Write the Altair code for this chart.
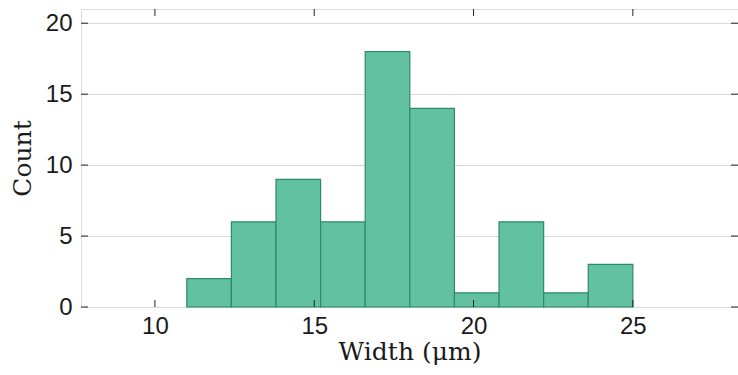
import altair as alt
import pandas as pd

bin_start = [11.0, 12.4, 13.8, 15.2, 16.6, 18.0, 19.4, 20.8, 22.2, 23.6]
bin_end = [12.4, 13.8, 15.2, 16.6, 18.0, 19.4, 20.8, 22.2, 23.6, 25.0]
counts = [2, 6, 9, 6, 18, 14, 1, 6, 1, 3]
x_ticks = [10, 15, 20, 25]
y_ticks = [0, 5, 10, 15, 20]

W, H = 657, 298
x_domain = [7.68, 28.3]
y_domain = [0, 21]

df = pd.DataFrame({"start": bin_start, "end": bin_end, "count": counts})
xt = pd.DataFrame({"v": x_ticks})
yt = pd.DataFrame({"v": y_ticks})

xs = alt.Scale(domain=x_domain, nice=False, zero=False)
ys = alt.Scale(domain=y_domain, nice=False)

label_font = "Liberation Sans, Arial, Helvetica, sans-serif"
title_font = "DejaVu Serif"

bars = alt.Chart(df).mark_rect(
    color="#62c1a1", stroke="#2d8a6b", strokeWidth=1.2
).encode(
    x=alt.X("start:Q", scale=xs, axis=alt.Axis(
        values=x_ticks, tickSize=0, domain=False, grid=False,
        labelFont=label_font, labelFontSize=24, labelColor="#1a1a1a",
        labelPadding=7, title="Width (μm)", titleFont=title_font,
        titleFontSize=25, titleFontWeight="normal", titleColor="#1a1a1a",
        titlePadding=1)),
    x2="end:Q",
    y=alt.Y("count:Q", scale=ys, axis=alt.Axis(
        values=y_ticks, tickSize=0, domain=False, grid=True,
        gridColor="#d9d9d9", gridWidth=1,
        labelFont=label_font, labelFontSize=24, labelColor="#1a1a1a",
        labelPadding=9, title="Count", titleFont=title_font,
        titleFontSize=25, titleFontWeight="normal", titleColor="#1a1a1a",
        titlePadding=10)),
    y2=alt.datum(0),
)

xb = alt.Chart(xt).mark_rule(color="#222", strokeWidth=1).encode(
    x=alt.X("v:Q", scale=xs), y=alt.value(H), y2=alt.value(H - 7))
xtop = alt.Chart(xt).mark_rule(color="#222", strokeWidth=1).encode(
    x=alt.X("v:Q", scale=xs), y=alt.value(0), y2=alt.value(7))
yl = alt.Chart(yt).mark_rule(color="#222", strokeWidth=1).encode(
    y=alt.Y("v:Q", scale=ys), x=alt.value(0), x2=alt.value(7))
yr = alt.Chart(yt).mark_rule(color="#222", strokeWidth=1).encode(
    y=alt.Y("v:Q", scale=ys), x=alt.value(W), x2=alt.value(W - 7))

chart = alt.layer(bars, xb, xtop, yl, yr).properties(
    width=W, height=H,
    padding={"left": 81, "top": 9, "right": 0, "bottom": 68},
    autosize=alt.AutoSizeParams(type="none"),
).configure_view(stroke="#222", strokeWidth=1.2).configure(background="white")

chart.save("out.html", embed_options={"renderer": "svg", "actions": False})
